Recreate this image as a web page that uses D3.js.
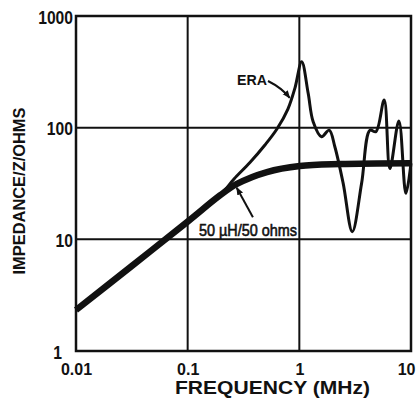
<!DOCTYPE html>
<html>
<head>
    <script src="https://d3js.org/d3.v7.min.js"></script>
    <style>
        body { margin: 0; background: white; }
        svg { display: block; font-family: "Liberation Sans", Arial, sans-serif; }
    </style>
</head>
<body>
<svg id="chart" width="416" height="399"></svg>
<script>
    // tick values + labels
    const freqTicks = [0.01, 0.1, 1, 10];
    const freqTickLabels = ["0.01", "0.1", "1", "10"];
    const zTicks = [1, 10, 100, 1000];
    const zTickLabels = ["1", "10", "100", "1000"];

    // 50 uH / 50 ohm network (thick curve), MHz vs ohms
    const lisnFreq = [0.01, 0.0317, 0.1, 0.1945, 0.276, 0.513, 1.01, 2.31, 10];
    const lisnZ = [2.33, 5.79, 14.4, 24.7, 31.3, 40.0, 45.3, 47.2, 48];

    // ERA measured curve (thin)
    const eraFreq = [0.1, 0.1945, 0.26, 0.361, 0.492, 0.63, 0.79, 0.913, 1.05, 1.2, 1.33, 1.58, 1.85, 2.08, 2.47, 2.98, 3.61, 4.29, 4.85, 5.75, 6.47, 7.79, 9.0, 10];
    const eraZ = [14.4, 24.7, 34.7, 48.7, 69.9, 97.2, 146.7, 226, 389, 203, 113, 83, 95, 67.5, 31.7, 11.7, 31.7, 95, 92, 177, 43, 115, 25.8, 48];

    var margin = { top: 16, right: 5, bottom: 48, left: 76 },
        width = 416 - margin.left - margin.right,
        height = 399 - margin.top - margin.bottom;

    var svg = d3.select("#chart");
    var g = svg.append("g").attr("transform", "translate(" + margin.left + "," + margin.top + ")");

    var x = d3.scaleLog().domain([0.01, 10]).range([0, width]);
    var y = d3.scaleLog().domain([1, 1000]).range([height, 0]);

    // grid lines
    g.selectAll(".vgrid").data(freqTicks.slice(1, -1)).enter().append("line")
        .attr("x1", d => x(d)).attr("x2", d => x(d))
        .attr("y1", 0).attr("y2", height)
        .attr("stroke", "#111").attr("stroke-width", 2);
    g.selectAll(".hgrid").data(zTicks.slice(1, -1)).enter().append("line")
        .attr("x1", 0).attr("x2", width)
        .attr("y1", d => y(d)).attr("y2", d => y(d))
        .attr("stroke", "#111").attr("stroke-width", 2);

    // frame
    g.append("rect").attr("width", width).attr("height", height)
        .attr("fill", "none").attr("stroke", "#111").attr("stroke-width", 2.5);

    // axes (labels only)
    var xAxis = g.append("g").attr("transform", "translate(0," + height + ")")
        .call(d3.axisBottom(x).tickValues(freqTicks).tickSize(0)
            .tickFormat((d, i) => freqTickLabels[i]));
    xAxis.select(".domain").remove();
    xAxis.selectAll("text")
        .attr("y", 24).attr("dy", 0)
        .style("font-size", "16px").style("font-weight", "bold")
        .style("font-family", "Liberation Sans, Arial, sans-serif").attr("fill", "#111");
    xAxis.selectAll(".tick").filter(d => d === 10).select("text")
        .attr("text-anchor", "end").attr("x", 4);

    var yAxis = g.append("g")
        .call(d3.axisLeft(y).tickValues(zTicks).tickSize(0)
            .tickFormat((d, i) => zTickLabels[i]));
    yAxis.select(".domain").remove();
    yAxis.selectAll("text")
        .attr("x", -3).attr("dy", 7)
        .style("font-size", "18px").style("font-weight", "bold")
        .style("font-family", "Liberation Sans, Arial, sans-serif").attr("fill", "#111")
        .each(function () {
            var len = this.getComputedTextLength();
            d3.select(this).attr("textLength", len * 0.87).attr("lengthAdjust", "spacingAndGlyphs");
        });
    yAxis.selectAll(".tick").filter(d => d === 1).select("text").attr("x", -14);

    // curves
    var line = d3.line().curve(d3.curveCatmullRom.alpha(0.5))
        .x(d => x(d[0])).y(d => y(d[1]));

    g.append("path")
        .datum(eraFreq.map((f, i) => [f, eraZ[i]]))
        .attr("d", line)
        .attr("fill", "none").attr("stroke", "#111").attr("stroke-width", 3)
        .attr("stroke-linejoin", "round");

    g.append("path")
        .datum(lisnFreq.map((f, i) => [f, lisnZ[i]]))
        .attr("d", line)
        .attr("fill", "none").attr("stroke", "#111").attr("stroke-width", 6.5)
        .attr("stroke-linecap", "butt");

    // arrow marker
    svg.append("defs").append("marker")
        .attr("id", "arr").attr("viewBox", "0 0 10 10")
        .attr("refX", 9).attr("refY", 5)
        .attr("markerWidth", 4).attr("markerHeight", 4)
        .attr("orient", "auto")
        .append("path").attr("d", "M0,1 L10,5 L0,9 z").attr("fill", "#111");

    // ERA annotation
    g.append("text").attr("x", 237 - margin.left).attr("y", 85 - margin.top)
        .attr("textLength", 30).attr("lengthAdjust", "spacingAndGlyphs")
        .style("font-size", "14px").style("font-weight", "bold").attr("fill", "#111")
        .text("ERA");
    var eraTip = [x(0.82), y(185)];
    g.append("path")
        .attr("d", "M" + (268 - margin.left) + "," + (81 - margin.top) +
            " Q" + (eraTip[0] - 8) + "," + (eraTip[1] - 10) + " " + eraTip[0] + "," + eraTip[1])
        .attr("fill", "none").attr("stroke", "#111").attr("stroke-width", 2)
        .attr("marker-end", "url(#arr)");

    // 50uH annotation
    g.append("text").attr("x", 199 - margin.left).attr("y", 236 - margin.top)
        .attr("textLength", 98).attr("lengthAdjust", "spacingAndGlyphs")
        .style("font-size", "16px").attr("fill", "#111")
        .attr("stroke", "#111").attr("stroke-width", 0.6)
        .text("50 \u00b5H/50 ohms");
    g.append("line")
        .attr("x1", x(0.384)).attr("y1", y(15.8))
        .attr("x2", x(0.275)).attr("y2", y(29))
        .attr("stroke", "#111").attr("stroke-width", 2)
        .attr("marker-end", "url(#arr)");

    // axis titles
    svg.append("text").attr("x", 175).attr("y", 394)
        .attr("textLength", 195).attr("lengthAdjust", "spacingAndGlyphs")
        .style("font-size", "18px").style("font-weight", "bold").attr("fill", "#111")
        .text("FREQUENCY (MHz)");

    svg.append("text")
        .attr("transform", "translate(25,191) rotate(-90)")
        .attr("text-anchor", "middle")
        .attr("textLength", 167).attr("lengthAdjust", "spacingAndGlyphs")
        .style("font-size", "16px").style("font-weight", "bold").attr("fill", "#111")
        .text("IMPEDANCE/Z/OHMS");
</script>
</body>
</html>
